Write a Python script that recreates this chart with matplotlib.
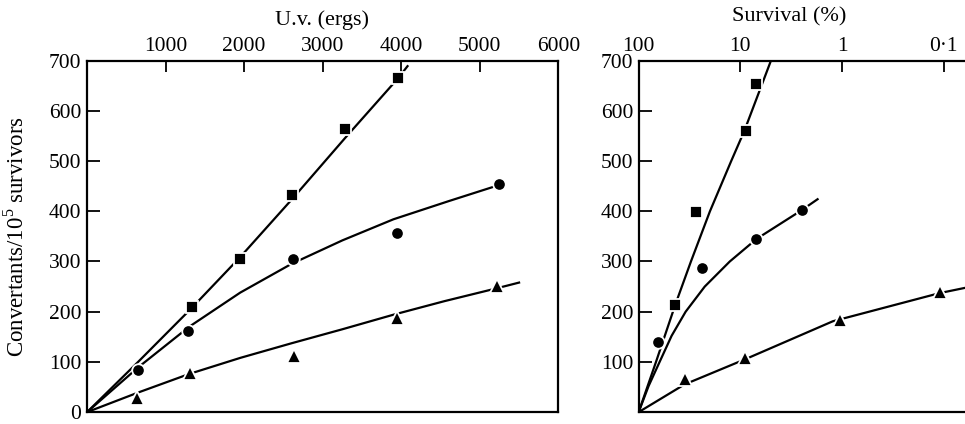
import numpy as np
import matplotlib
matplotlib.use('Agg')
import matplotlib.pyplot as plt
from matplotlib.ticker import FixedLocator, FixedFormatter, NullLocator

plt.rcParams['font.family'] = ['Liberation Serif', 'DejaVu Serif']
plt.rcParams['mathtext.fontset'] = 'custom'
plt.rcParams['mathtext.rm'] = 'Liberation Serif'

# --- U.v. dose (ergs) vs convertants ---
uv_sq = [1330, 1945, 2615, 3280, 3955]
conv_uv_sq = [209, 305, 432, 563, 666]
uv_ci = [650, 1285, 2620, 3945, 5240]
conv_uv_ci = [84, 162, 305, 356, 454]
uv_tr = [630, 1310, 2630, 3945, 5225]
conv_uv_tr = [28, 77, 112, 187, 252]

# hand-fitted curves through each series
fit_uv_sq = [0, 650, 1330, 1945, 2615, 3280, 3955, 4080]
fit_conv_uv_sq = [0, 100, 207, 308, 425, 545, 664, 689]
fit_uv_ci = [0, 650, 1300, 1950, 2600, 3250, 3900, 4600, 5240]
fit_conv_uv_ci = [0, 89, 170, 238, 295, 342, 384, 420, 452]
fit_uv_tr = [0, 650, 1300, 1950, 2600, 3250, 3900, 4550, 5200, 5500]
fit_conv_uv_tr = [0, 39, 76, 108, 137, 165, 194, 221, 246, 258]

# --- Survival (%) vs convertants ---
surv_sq = [43.6, 27.3, 8.8, 7.05]
conv_s_sq = [214, 398, 560, 654]
surv_ci = [65, 23.6, 7.0, 2.5]
conv_s_ci = [140, 288, 345, 402]
surv_tr = [35, 9.0, 1.05, 0.11]
conv_s_tr = [66, 108, 184, 239]

fit_surv_sq = [100, 67.5, 43.6, 30.6, 19.9, 12.3, 9.14, 5.0]
fit_conv_s_sq = [0, 100, 214, 300, 400, 500, 560, 700]
fit_surv_ci = [100, 79.8, 62.2, 47.4, 34.5, 22.4, 12.7, 6.92, 2.50, 1.74]
fit_conv_s_ci = [0, 52, 100, 152, 200, 250, 300, 345, 402, 424]
fit_surv_tr = [100, 35.5, 8.8, 1.23, 0.11, 0.06]
fit_conv_s_tr = [0, 55, 106, 181, 237, 248]

uv_ticks = [1000, 2000, 3000, 4000, 5000, 6000]
surv_ticks = [100, 10, 1, 0.1]
surv_labels = ['100', '10', '1', '0·1']

FS = 15.5
LW = 1.6
mk = dict(color='black', markeredgecolor='white', markeredgewidth=1.3,
          linestyle='none', zorder=3, clip_on=False)

fig = plt.figure(figsize=(9.65, 4.24), dpi=100)
ax1 = fig.add_axes([0.0902, 0.028, 0.4884, 0.829])
ax2 = fig.add_axes([0.6618, 0.028, 0.3382, 0.829])

# left: dose
ax1.plot(fit_uv_sq, fit_conv_uv_sq, color='black', lw=LW, zorder=2)
ax1.plot(fit_uv_ci, fit_conv_uv_ci, color='black', lw=LW, zorder=2)
ax1.plot(fit_uv_tr, fit_conv_uv_tr, color='black', lw=LW, zorder=2)
ax1.plot(uv_sq, conv_uv_sq, marker='s', ms=9, **mk)
ax1.plot(uv_ci, conv_uv_ci, marker='o', ms=9, **mk)
ax1.plot(uv_tr, conv_uv_tr, marker='^', ms=10, **mk)

ax1.set_xlim(0, 6000)
ax1.set_ylim(0, 700)
ax1.xaxis.set_ticks_position('top')
ax1.xaxis.set_major_locator(FixedLocator(uv_ticks))
ax1.yaxis.set_major_locator(FixedLocator(list(range(0, 701, 100))))
ax1.tick_params(axis='x', direction='in', length=8, width=1.3, pad=3,
                labelsize=FS, top=True, bottom=False)
ax1.tick_params(axis='y', direction='in', length=9, width=1.3, pad=4,
                labelsize=FS)
ax1.set_ylabel(r'Convertants/10$^5$ survivors', fontsize=16.5, labelpad=15)

# right: survival, log scale running from 100% downward
ax2.plot(fit_surv_sq, fit_conv_s_sq, color='black', lw=LW, zorder=2)
ax2.plot(fit_surv_ci, fit_conv_s_ci, color='black', lw=LW, zorder=2)
ax2.plot(fit_surv_tr, fit_conv_s_tr, color='black', lw=LW, zorder=2)
ax2.plot(surv_sq, conv_s_sq, marker='s', ms=9, **mk)
ax2.plot(surv_ci, conv_s_ci, marker='o', ms=9, **mk)
ax2.plot(surv_tr, conv_s_tr, marker='^', ms=10, **mk)

ax2.set_xscale('log')
ax2.set_xlim(100, 0.0618)
ax2.set_ylim(0, 700)
ax2.xaxis.set_ticks_position('top')
ax2.xaxis.set_major_locator(FixedLocator(surv_ticks))
ax2.xaxis.set_major_formatter(FixedFormatter(surv_labels))
ax2.xaxis.set_minor_locator(NullLocator())
ax2.yaxis.set_major_locator(FixedLocator(list(range(100, 701, 100))))
ax2.tick_params(axis='x', direction='in', length=8, width=1.3, pad=3,
                labelsize=FS, top=True, bottom=False)
ax2.tick_params(axis='y', direction='in', length=9, width=1.3, pad=4,
                labelsize=FS)
ax2.spines['right'].set_visible(False)

for ax in (ax1, ax2):
    for s in ax.spines.values():
        s.set_linewidth(1.6)

fig.text(322 / 965, 1 - 20 / 424, 'U.v. (ergs)', fontsize=16,
         ha='center', va='center')
fig.text(789 / 965, 1 - 17 / 424, 'Survival (%)', fontsize=16,
         ha='center', va='center')

fig.savefig('out.png', dpi=100)
